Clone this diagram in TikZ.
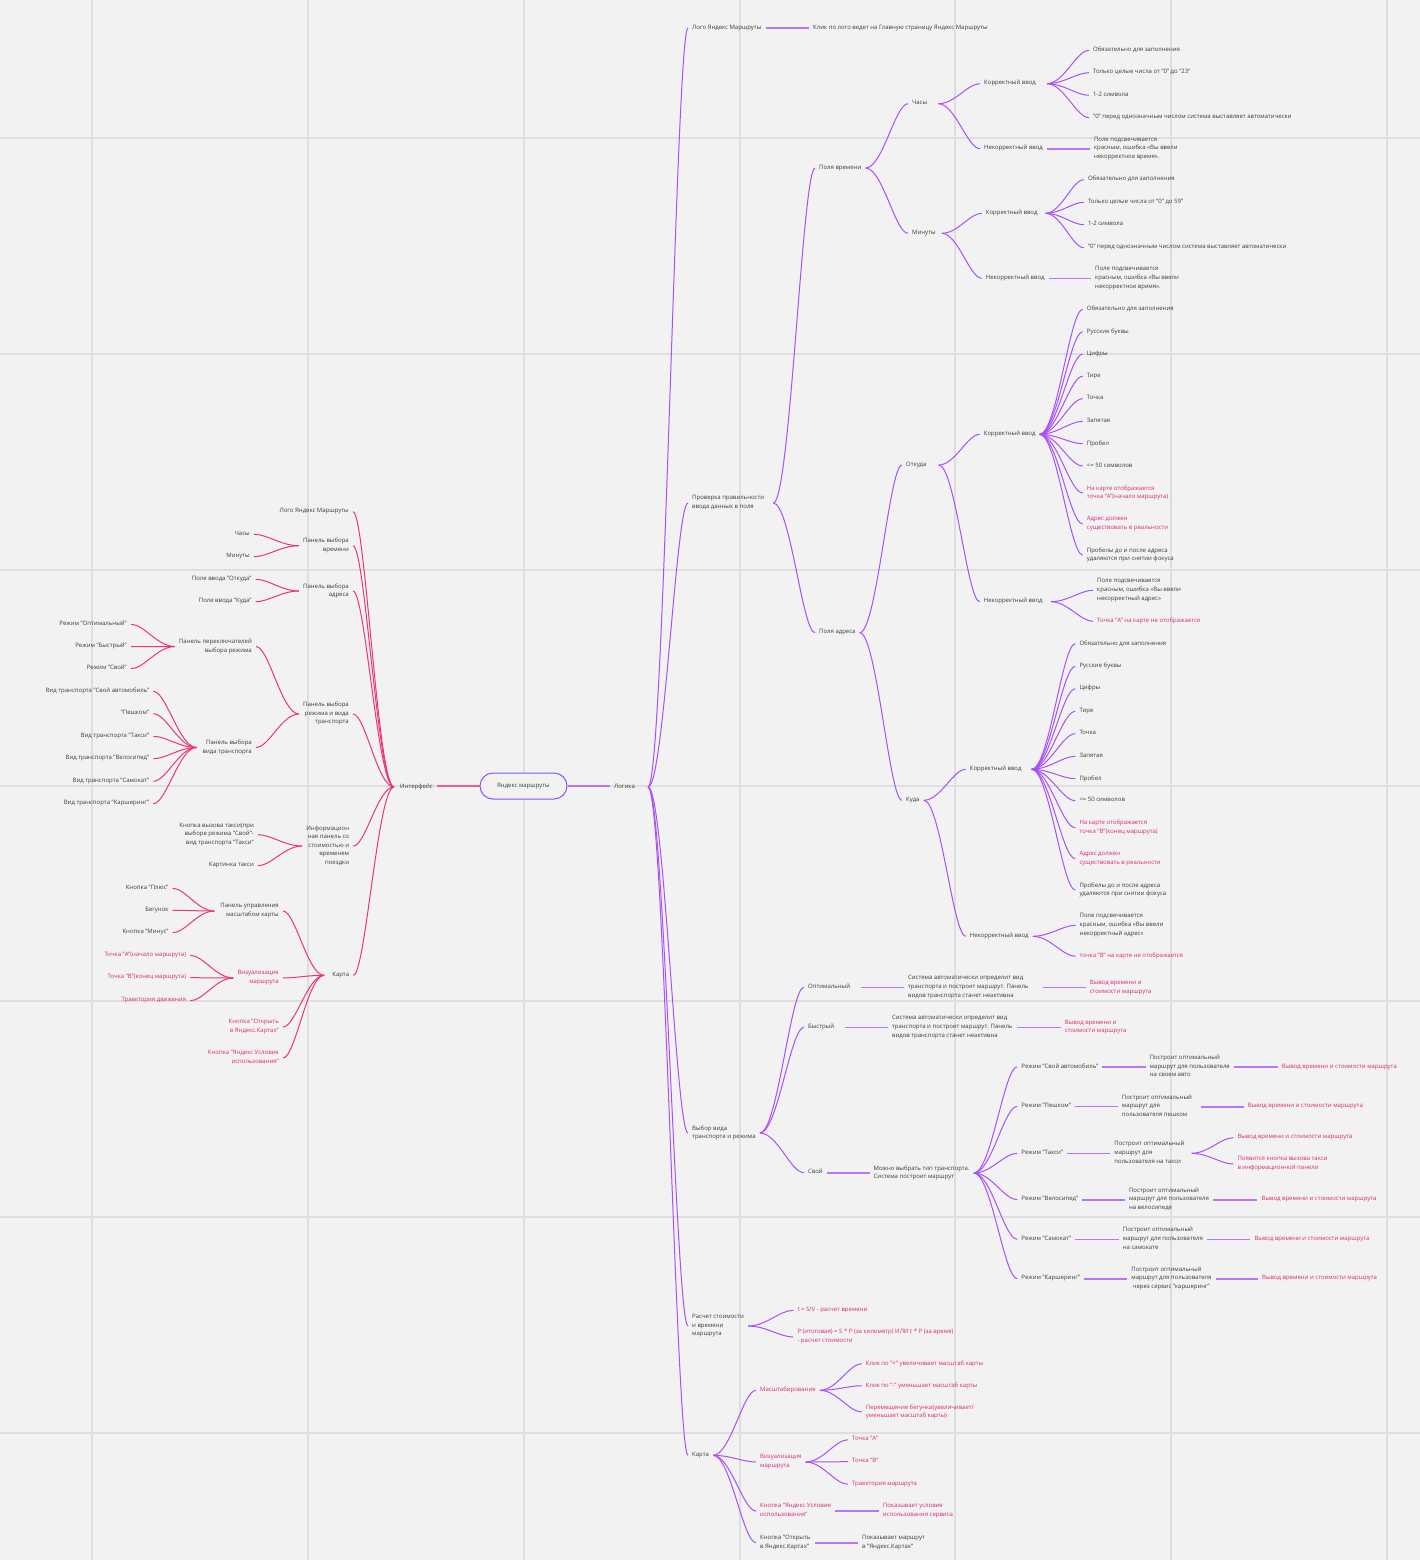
\documentclass[tikz,border=0pt]{standalone}
\usepackage{fontspec}
\setmainfont{Open Sans}
\usetikzlibrary{calc}
\definecolor{bg}{RGB}{242,242,242}
\definecolor{gridc}{RGB}{222,222,222}
\definecolor{purp}{RGB}{170,80,248}
\definecolor{pnk}{RGB}{236,54,116}
\definecolor{txt}{RGB}{60,60,60}
\definecolor{ptxt}{RGB}{218,40,118}
\definecolor{rootc}{RGB}{138,82,255}
\tikzset{
 base/.style={font=\fontsize{6}{8.6}\selectfont, text=txt, inner xsep=4pt, inner ysep=1pt, text depth=2pt, yshift=-1pt, execute at begin node={\vphantom{Ab}}},
 r/.style={base, anchor=west, align=left},
 l/.style={base, anchor=east, align=right},
 pt/.style={text=ptxt},
 pc/.style={draw=purp, line width=1pt},
 kc/.style={draw=pnk, line width=1pt},
 ps/.style={draw=purp!80, line width=1.6pt},
 ks/.style={draw=pnk!80, line width=1.6pt},
 rootn/.style={draw=rootc, line width=1pt, rounded corners=13pt, minimum width=87pt, minimum height=26pt, fill=bg, text=txt, font=\fontsize{6}{8.6}\selectfont},
}
\newcommand\mmc[3][pc]{\draw[#1] let \p1=(#2), \p2=(#3) in (\p1) .. controls ({\x1+0.4*(\x2-\x1)},\y1) and ({\x1+0.7*(\x2-\x1)},\y2) .. (\p2);}
\newcommand\mms[4][ps]{\draw[#1] ([xshift=#4]#2.east) -- (#2.east -| #3.west);}
\begin{document}
\begin{tikzpicture}[x=1pt,y=-1pt]
\fill[bg] (0,0) rectangle (1420,1560);
\useasboundingbox (0,0) rectangle (1420,1560);
\foreach \gx in {92,308,524,740,955,1171,1387} \draw[gridc,line width=1.5pt] (\gx,0) -- (\gx,1560);
\foreach \gy in {138,354,570,786,1001,1217,1433} \draw[gridc,line width=1.5pt] (0,\gy) -- (1420,\gy);

% root
\node[rootn] (root) at (523.5,786) {Яндекс маршруты};
\node[r] (lg) at (610,786) {Логика};
\node[r] (if) at (396,786) {Интерфейс};
\draw[ps] (root.east) -- (root.east -| lg.west);
\draw[ks] (root.west) -- (root.west -| if.east);

% ===== Logic =====
\node[r] (l1) at (688,27) {Лого Яндекс Маршруты};
\node[r] (l1a) at (809,27) {Клик по лого ведет на Главную страницу Яндекс Маршруты};
\node[r] (l2) at (688,502) {Проверка правильности\\ввода данных в поля};
\node[r] (l3) at (688,1132) {Выбор вида\\транспорта и режима};
\node[r] (l4) at (688,1325) {Расчет стоимости\\и времени\\маршрута};
\node[r] (l5) at (688,1454.3) {Карта};
\foreach \c in {l1,l2,l3,l4,l5} {\mmc{[xshift=9pt]lg.east}{\c.west}}
\mms{l1}{l1a}{0pt}

% time fields
\node[r] (pt) at (815,167) {Поля времени};
\node[r] (ph) at (908,102.7) {Часы};
\node[r] (phc) at (980,82.7) {Корректный ввод};
\node[r] (phc1) at (1089,49.3) {Обязательно для заполнения};
\node[r] (phc2) at (1089,71.7) {Только целые числа от "0" до "23"};
\node[r] (phc3) at (1089,94.3) {1-2 символа};
\node[r] (phc4) at (1089,116.7) {"0" перед однозначным числом система выставляет автоматически};
\node[r] (phi) at (980,147.7) {Некорректный ввод};
\node[r] (phi1) at (1089.8,147.7) {Поле подсвечивается\\красным, ошибка «Вы ввели\\некорректное время».};
\node[r] (pm) at (908,232.3) {Минуты};
\node[r] (pmc) at (981.7,212.3) {Корректный ввод};
\node[r] (pmc1) at (1083.8,178.7) {Обязательно для заполнения};
\node[r] (pmc2) at (1083.8,201.3) {Только целые числа от "0" до 59"};
\node[r] (pmc3) at (1083.8,223.7) {1-2 символа};
\node[r] (pmc4) at (1083.8,246.7) {"0" перед однозначным числом система выставляет автоматически};
\node[r] (pmi) at (981.7,277.3) {Некорректный ввод};
\node[r] (pmi1) at (1091,277.3) {Поле подсвечивается\\красным, ошибка «Вы ввели\\некорректное время».};
\mmc{[xshift=5pt]l2.east}{pt.west}
\mmc{pt.east}{ph.west}
\mmc{pt.east}{pm.west}
\mmc{[xshift=7pt]ph.east}{phc.west}
\mmc{[xshift=7pt]ph.east}{phi.west}
\foreach \c in {phc1,phc2,phc3,phc4} {\mmc{[xshift=7pt]phc.east}{\c.west}}
\mms{phi}{phi1}{0pt}
\mmc{[xshift=2pt]pm.east}{pmc.west}
\mmc{[xshift=2pt]pm.east}{pmi.west}
\foreach \c in {pmc1,pmc2,pmc3,pmc4} {\mmc{[xshift=4pt]pmc.east}{\c.west}}
\mms{pmi}{pmi1}{0pt}

% address fields
\node[r] (pa) at (815,631.7) {Поля адреса};
\node[r] (pf) at (902,464) {Откуда};
\node[r] (pfc) at (979.7,433.3) {Корректный ввод};
\node[r] (pf1) at (1082.7,308.3) {Обязательно для заполнения};
\node[r] (pf2) at (1082.7,330.7) {Русские буквы};
\node[r] (pf3) at (1082.7,353) {Цифры};
\node[r] (pf4) at (1082.7,375.3) {Тире};
\node[r] (pf5) at (1082.7,397.7) {Точка};
\node[r] (pf6) at (1082.7,420.3) {Запятая};
\node[r] (pf7) at (1082.7,442.7) {Пробел};
\node[r] (pf8) at (1082.7,465) {<= 50 символов};
\node[r,pt] (pf9) at (1082.7,492) {На карте отображается\\точка "А"(начало маршрута)};
\node[r,pt] (pf10) at (1082.7,523) {Адрес должен\\существовать в реальности};
\node[r] (pf11) at (1082.7,554) {Пробелы до и после адреса\\удаляются при снятии фокуса};
\node[r] (pfi) at (979.7,600.7) {Некорректный ввод};
\node[r] (pfi1) at (1093,589.3) {Поле подсвечивается\\красным, ошибка «Вы ввели\\некорректный адрес»};
\node[r,pt] (pfi2) at (1093,620.3) {Точка "А" на карте не отображается};
\mmc{[xshift=5pt]l2.east}{pa.west}
\mmc{pa.east}{pf.west}
\mmc[pc]{[xshift=8pt]pf.east}{pfc.west}
\mmc{[xshift=8pt]pf.east}{pfi.west}
\foreach \c in {pf1,pf2,pf3,pf4,pf5,pf6,pf7,pf8,pf9,pf10,pf11} {\mmc{pfc.east}{\c.west}}
\mmc{[xshift=4pt]pfi.east}{pfi1.west}
\mmc{[xshift=4pt]pfi.east}{pfi2.west}

\node[r] (pk) at (902,799.3) {Куда};
\node[r] (pkc) at (965.7,768.3) {Корректный ввод};
\node[r] (pk1) at (1075.3,642.7) {Обязательно для заполнения};
\node[r] (pk2) at (1075.3,665.3) {Русские буквы};
\node[r] (pk3) at (1075.3,687.7) {Цифры};
\node[r] (pk4) at (1075.3,710.3) {Тире};
\node[r] (pk5) at (1075.3,732.7) {Точка};
\node[r] (pk6) at (1075.3,755.3) {Запятая};
\node[r] (pk7) at (1075.3,777.7) {Пробел};
\node[r] (pk8) at (1075.3,799.7) {<= 50 символов};
\node[r,pt] (pk9) at (1075.3,826.8) {На карте отображается\\точка "В"(конец маршрута)};
\node[r,pt] (pk10) at (1075.3,857.8) {Адрес должен\\существовать в реальности};
\node[r] (pk11) at (1075.3,889) {Пробелы до и после адреса\\удаляются при снятии фокуса};
\node[r] (pki) at (965.7,935.3) {Некорректный ввод};
\node[r] (pki1) at (1075.5,924.3) {Поле подсвечивается\\красным, ошибка «Вы ввели\\некорректный адрес»};
\node[r,pt] (pki2) at (1075.5,955.3) {точка "В" на карте не отображается};
\mmc{pa.east}{pk.west}
\mmc{pk.east}{pkc.west}
\mmc{pk.east}{pki.west}
\foreach \c in {pk1,pk2,pk3,pk4,pk5,pk6,pk7,pk8,pk9,pk10,pk11} {\mmc{[xshift=6pt]pkc.east}{\c.west}}
\mmc{pki.east}{pki1.west}
\mmc{pki.east}{pki2.west}

% transport / mode
\node[r] (so) at (803.9,986.3) {Оптимальный};
\node[r] (so1) at (903.9,986.3) {Система автоматически определит вид\\транспорта и построит маршрут. Панель\\видов транспорта станет неактивна};
\node[r,pt] (so2) at (1085.6,986.7) {Вывод времени и\\стоимости маршрута};
\node[r] (sb) at (803.9,1026.3) {Быстрый};
\node[r] (sb1) at (887.9,1026.3) {Система автоматически определит вид\\транспорта и построит маршрут. Панель\\видов транспорта станет неактивна};
\node[r,pt] (sb2) at (1060.6,1026.3) {Вывод времени и\\стоимости маршрута};
\node[r] (ss) at (803.9,1171.7) {Свой};
\node[r] (ss1) at (869.5,1172) {Можно выбрать тип транспорта.\\Система построит маршрут};
\foreach \c in {so,sb,ss} {\mmc{l3.east}{\c.west}}
\mms{so}{so1}{7pt}
\mms{so1}{so2}{10pt}
\mms{sb}{sb1}{7pt}
\mms{sb1}{sb2}{0pt}
\mms{ss}{ss1}{0pt}

\node[r] (m1) at (1017.2,1065.7) {Режим "Свой автомобиль"};
\node[r] (m1a) at (1145.6,1066) {Построит оптимальный\\маршрут для пользователя\\на своем авто};
\node[r,pt] (m1b) at (1277.7,1066) {Вывод времени и стоимости маршрута};
\node[r] (m2) at (1017.2,1105.3) {Режим "Пешком"};
\node[r] (m2a) at (1117.7,1105.7) {Построит оптимальный\\маршрут для\\пользователя пешком};
\node[r,pt] (m2b) at (1243.7,1105.3) {Вывод времени и стоимости маршрута};
\node[r] (m3) at (1017.2,1152.3) {Режим "Такси"};
\node[r] (m3a) at (1110.2,1152.3) {Построит оптимальный\\маршрут для\\пользователя на такси};
\node[r,pt] (m3b) at (1233.3,1136.7) {Вывод времени и стоимости маршрута};
\node[r,pt] (m3c) at (1233.3,1163) {Появится кнопка вызова такси\\в информационной панели};
\node[r] (m4) at (1017.2,1198.7) {Режим "Велосипед"};
\node[r] (m4a) at (1124.8,1198.7) {Построит оптимальный\\маршрут для пользователя\\на велосипеде};
\node[r,pt] (m4b) at (1257.4,1198.7) {Вывод времени и стоимости маршрута};
\node[r] (m5) at (1017.2,1238.3) {Режим "Самокат"};
\node[r] (m5a) at (1118.7,1238.3) {Построит оптимальный\\маршрут для пользователя\\на самокате};
\node[r,pt] (m5b) at (1250.3,1238.3) {Вывод времени и стоимости маршрута};
\node[r] (m6) at (1017.2,1277.7) {Режим "Каршеринг"};
\node[r] (m6a) at (1127.2,1277.7) {Построит оптимальный\\маршрут для пользователя\\\hspace*{1.5pt}через сервис "каршеринг"};
\node[r,pt] (m6b) at (1257.9,1277.7) {Вывод времени и стоимости маршрута};
\foreach \c in {m1,m2,m3,m4,m5,m6} {\mmc{ss1.east}{\c.west}}
\mms{m1}{m1a}{0pt} \mms{m1a}{m1b}{0pt}
\mms{m2}{m2a}{0pt} \mms{m2a}{m2b}{5pt}
\mms{m3}{m3a}{0pt}
\mmc{[xshift=3pt]m3a.east}{m3b.west}
\mmc{[xshift=3pt]m3a.east}{m3c.west}
\mms{m4}{m4a}{0pt} \mms{m4a}{m4b}{0pt}
\mms{m5}{m5a}{0pt} \mms{m5a}{m5b}{0pt}
\mms{m6}{m6a}{0pt} \mms{m6a}{m6b}{0pt}

% cost
\node[r,pt] (c1) at (793.3,1309.3) {t = S/V - расчет времени};
\node[r,pt] (c2) at (793.3,1336) {P (итоговая) = S * P (за километр) ИЛИ t * P (за время)\\- расчет стоимости};
\mmc{l4.east}{c1.west}
\mmc{l4.east}{c2.west}

% map
\node[r,pt] (k1) at (756,1389.3) {Масштабирование};
\node[r,pt] (k1a) at (861.7,1362.7) {Клик по "+" увеличивает масштаб карты};
\node[r,pt] (k1b) at (861.7,1384.7) {Клик по "-" уменьшает масштаб карты};
\node[r,pt] (k1c) at (861.7,1411) {Перемещение бегунка(увеличивает/\\уменьшает масштаб карты)};
\node[r,pt] (k2) at (756,1461) {Визуализация\\маршрута};
\node[r,pt] (k2a) at (848,1438.7) {Точка "А"};
\node[r,pt] (k2b) at (848,1460.7) {Точка "В"};
\node[r,pt] (k2c) at (848,1483.3) {Траектория маршрута};
\node[r,pt] (k3) at (756,1510) {Кнопка "Яндекс Условия\\использования"};
\node[r,pt] (k3a) at (878.7,1510) {Показывает условия\\использования сервиса};
\node[r] (k4) at (756,1541.7) {Кнопка "Открыть\\в Яндекс.Картах"};
\node[r] (k4a) at (858,1541.7) {Показывает маршрут\\в "Яндекс.Картах"};
\foreach \c in {k1,k2,k3,k4} {\mmc{l5.east}{\c.west}}
\foreach \c in {k1a,k1b,k1c} {\mmc{k1.east}{\c.west}}
\foreach \c in {k2a,k2b,k2c} {\mmc{k2.east}{\c.west}}
\mms{k3}{k3a}{0pt}
\mms{k4}{k4a}{0pt}

% ===== Interface =====
\node[l] (ia) at (353,510.7) {Лого Яндекс Маршруты};
\node[l] (ib) at (353,544.7) {Панель выбора\\времени};
\node[l] (ib1) at (254,533.3) {Часы};
\node[l] (ib2) at (254,555.7) {Минуты};
\node[l] (ic) at (353,590) {Панель выбора\\адреса};
\node[l] (ic1) at (255.7,578.3) {Поле ввода "Откуда"};
\node[l] (ic2) at (255.7,600.7) {Поле ввода "Куда"};
\node[l] (id) at (353,713) {Панель выбора\\режима и вида\\транспорта};
\node[l] (id1) at (256,645.5) {Панель переключателей\\выбора режима};
\node[l] (id1a) at (131,623.3) {Режим "Оптимальный"};
\node[l] (id1b) at (131,645.7) {Режим "Быстрый"};
\node[l] (id1c) at (131,667.7) {Режим "Свой"};
\node[l] (id2) at (256,746.5) {Панель выбора\\вида транспорта};
\node[l] (id2a) at (153.3,690.3) {Вид транспорта "Свой автомобиль"};
\node[l] (id2b) at (153.3,712.7) {"Пешком"};
\node[l] (id2c) at (153.3,735.3) {Вид транспорта "Такси"};
\node[l] (id2d) at (153.3,757.7) {Вид транспорта "Велосипед"};
\node[l] (id2e) at (153.3,780.3) {Вид транспорта "Самокат"};
\node[l] (id2f) at (153.3,802.7) {Вид транспорта "Каршеринг"};
\node[l] (ie) at (353.3,845) {Информацион\\ная панель со\\стоимостью и\\временем\\поездки};
\node[l] (ie1) at (258,833.7) {Кнопка вызова такси(при\\выборе режима "Свой"-\\вид транспорта "Такси"};
\node[l] (ie2) at (258,864.7) {Картинка такси};
\node[l] (ig) at (353.3,974.3) {Карта};
\node[l] (ig1) at (283,910) {Панель управления\\масштабом карты};
\node[l] (ig1a) at (172.7,887.3) {Кнопка "Плюс"};
\node[l] (ig1b) at (172.7,909.3) {Бегунок};
\node[l] (ig1c) at (172.7,931.7) {Кнопка "Минус"};
\node[l,pt] (ig2) at (283,977) {Визуализация\\маршрута};
\node[l,pt] (ig2a) at (190.3,954.3) {Точка "А"(начало маршрута)};
\node[l,pt] (ig2b) at (190.3,976.7) {Точка "В"(конец маршрута)};
\node[l,pt] (ig2c) at (190.3,999.7) {Траектория движения};
\node[l,pt] (ig3) at (283,1026) {Кнопка "Открыть\\в Яндекс.Картах"};
\node[l,pt] (ig4) at (283,1057) {Кнопка "Яндекс Условия\\использования"};
\foreach \c in {ia,ib,ic,id,ie,ig} {\mmc[kc]{[xshift=-2pt]if.west}{\c.east}}
\foreach \c in {ib1,ib2} {\mmc[kc]{ib.west}{\c.east}}
\foreach \c in {ic1,ic2} {\mmc[kc]{ic.west}{\c.east}}
\foreach \c in {id1,id2} {\mmc[kc]{id.west}{\c.east}}
\foreach \c in {id1a,id1b,id1c} {\mmc[kc]{id1.west}{\c.east}}
\foreach \c in {id2a,id2b,id2c,id2d,id2e,id2f} {\mmc[kc]{[xshift=-2pt]id2.west}{\c.east}}
\foreach \c in {ie1,ie2} {\mmc[kc]{ie.west}{\c.east}}
\foreach \c in {ig1,ig2,ig3,ig4} {\mmc[kc]{[xshift=-4pt]ig.west}{\c.east}}
\foreach \c in {ig1a,ig1b,ig1c} {\mmc[kc]{[xshift=-2pt]ig1.west}{\c.east}}
\foreach \c in {ig2a,ig2b,ig2c} {\mmc[kc]{ig2.west}{\c.east}}
\end{tikzpicture}
\end{document}
